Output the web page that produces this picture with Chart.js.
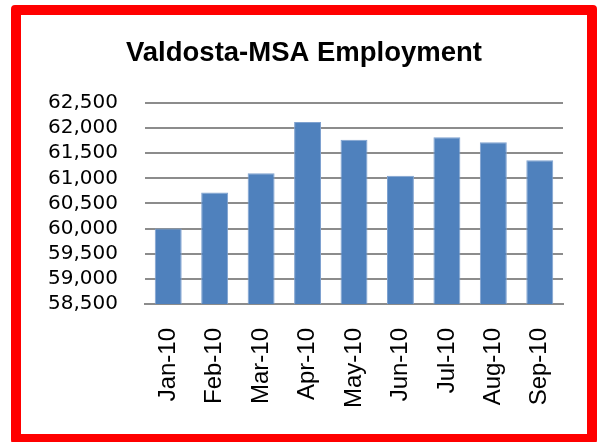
<!DOCTYPE html>
<html>
<head>
<meta charset="utf-8">
<script src="https://cdn.jsdelivr.net/npm/chart.js@4/dist/chart.umd.min.js"></script>
<style>
  html, body { margin: 0; padding: 0; background: #fff; overflow: hidden; width: 597px; height: 442px; }
  #wrap { position: absolute; left: 0; top: 0; width: 597px; height: 442px; }
  #frame { position: absolute; left: 11px; top: 5px; width: 566px; height: 419px; border: 10px solid #ff0000; border-radius: 4px; pointer-events: none; }
</style>
</head>
<body>
<div id="wrap">
  <canvas id="c" width="597" height="442"></canvas>
  <div id="frame"></div>
</div>
<script>
const titleText = "Valdosta-MSA Employment";
const categories = ["Jan-10", "Feb-10", "Mar-10", "Apr-10", "May-10", "Jun-10", "Jul-10", "Aug-10", "Sep-10"];
const employment = [60000, 60720, 61100, 62120, 61770, 61050, 61820, 61720, 61360];
const yMin = 58500;
const yMax = 62500;
const yStep = 500;

new Chart(document.getElementById("c"), {
  type: "bar",
  data: {
    labels: categories,
    datasets: [{
      label: "Employment",
      data: employment,
      backgroundColor: "#4F81BD",
      borderColor: "#7fa2d0",
      borderWidth: 1,
      barPercentage: 0.58,
      categoryPercentage: 1.0
    }]
  },
  options: {
    responsive: false,
    animation: false,
    layout: { padding: { left: 45, right: 34, top: 0, bottom: 10 } },
    plugins: {
      legend: { display: false },
      tooltip: { enabled: false },
      title: {
        display: true,
        text: titleText,
        color: "#000",
        font: { family: "'Liberation Sans', Arial, sans-serif", size: 27.5, weight: "bold" },
        padding: { top: 37, bottom: 33 }
      }
    },
    scales: {
      x: {
        grid: { display: false, drawTicks: false },
        border: { display: true, color: "#8c8c8c", width: 2 },
        ticks: {
          color: "#000",
          font: { family: "'Liberation Sans', Arial, sans-serif", size: 24 },
          maxRotation: 90,
          minRotation: 90,
          padding: 24,
          autoSkip: false
        }
      },
      y: {
        min: yMin,
        max: yMax,
        border: { display: false },
        grid: { color: "#8c8c8c", lineWidth: 2, drawTicks: false },
        afterFit: s => { s.width = 100; },
        ticks: {
          stepSize: yStep,
          autoSkip: false,
          color: "#000",
          padding: 27,
          font: { family: "'DejaVu Sans', sans-serif", size: 20 },
          callback: v => v.toLocaleString("en-US")
        }
      }
    }
  }
});
</script>
</body>
</html>
